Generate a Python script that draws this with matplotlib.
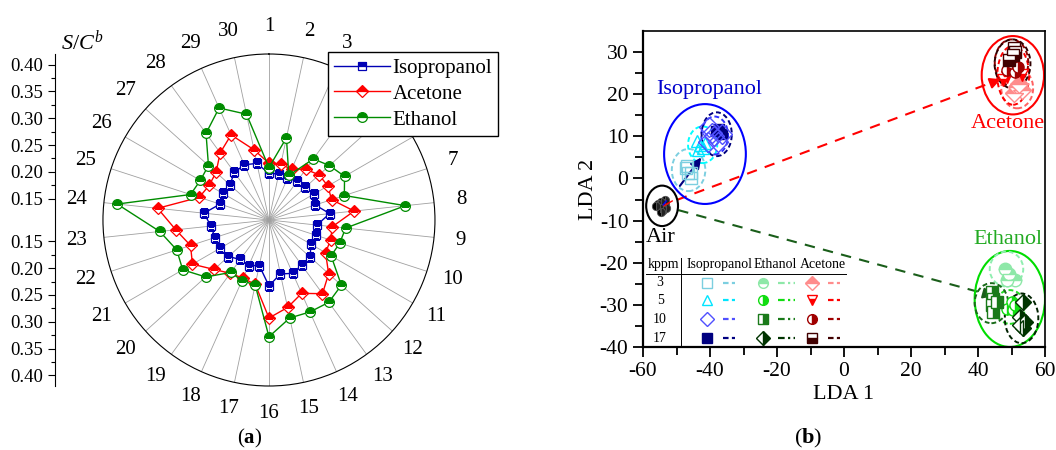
import numpy as np
import matplotlib
matplotlib.use('Agg')
import matplotlib.pyplot as plt
from matplotlib.patches import Ellipse

plt.rcParams['font.family'] = ['Liberation Serif', 'DejaVu Serif']
plt.rcParams['mathtext.fontset'] = 'custom'
plt.rcParams['mathtext.rm'] = 'Liberation Serif'
plt.rcParams['mathtext.it'] = 'Liberation Serif:italic'
plt.rcParams['mathtext.bf'] = 'Liberation Serif:bold'
plt.rcParams['axes.unicode_minus'] = False

# ---------------- (a) radar: S/C^b for sensors 1..30 ----------------
sensors = list(range(1, 31))
isopropanol = [0.197, 0.198, 0.195, 0.200, 0.201, 0.208, 0.201, 0.224, 0.200, 0.203,
               0.200, 0.214, 0.214, 0.219, 0.213, 0.233, 0.197, 0.203, 0.201, 0.212,
               0.216, 0.216, 0.219, 0.232, 0.206, 0.210, 0.208, 0.220, 0.223, 0.218]
acetone = [0.216, 0.216, 0.214, 0.227, 0.236, 0.237, 0.233, 0.270, 0.229, 0.231,
           0.232, 0.260, 0.280, 0.260, 0.277, 0.293, 0.233, 0.229, 0.233, 0.248,
           0.275, 0.264, 0.285, 0.319, 0.247, 0.239, 0.243, 0.265, 0.284, 0.244]
ethanol = [0.208, 0.267, 0.201, 0.251, 0.262, 0.273, 0.258, 0.366, 0.254, 0.249,
           0.244, 0.292, 0.300, 0.298, 0.297, 0.328, 0.234, 0.234, 0.231, 0.269,
           0.296, 0.291, 0.315, 0.395, 0.264, 0.258, 0.262, 0.310, 0.339, 0.312]
hidden_labels = [4, 5, 6]   # covered by the legend in the original
r_min, r_max = 0.11, 0.42
scale_ticks = [0.15, 0.20, 0.25, 0.30, 0.35, 0.40]

# ---------------- (b) LDA scores ----------------
air_x = [-55.5, -54.5, -53.5, -55.0, -54.0, -53.0, -56.0, -54.5, -53.5]
air_y = [-6.0, -5.5, -6.0, -7.0, -7.5, -7.0, -6.5, -8.0, -5.0]

iso3_x = [-47.2, -46.5, -45.6, -46.8, -45.8]
iso3_y = [2.4, 1.2, 1.2, 3.0, 0.2]
iso5_x = [-44.0, -43.0, -42.0, -41.5, -43.5]
iso5_y = [8.8, 8.0, 7.2, 8.5, 6.8]
iso10_x = [-40.3, -38.8, -40.7, -37.5, -36.5, -39.5]
iso10_y = [12.1, 10.0, 8.7, 8.7, 10.5, 10.8]
iso17_x = [-38.2, -37.2, -36.4]
iso17_y = [11.2, 11.8, 10.6]

eth3_x = [48.1, 49.1, 51.0, 48.6]
eth3_y = [-21.4, -22.6, -24.2, -24.2]
eth5_x = [50.0, 50.5, 48.6, 51.0]
eth5_y = [-29.3, -31.3, -30.9, -30.1]
eth10_x = [44.1, 44.6, 44.1, 44.6, 45.6]
eth10_y = [-26.9, -28.5, -30.1, -31.7, -29.3]
eth17_x = [53.5, 52.5, 54.0, 53.5, 52.5]
eth17_y = [-29.3, -32.9, -34.1, -35.6, -34.8]

ace3_x = [51.5, 53.0, 50.7, 52.2]
ace3_y = [21.6, 21.0, 20.2, 22.4]
ace5_x = [47.6, 48.8, 53.0]
ace5_y = [23.4, 24.2, 24.5]
ace10_x = [48.6, 51.0, 52.0, 50.0]
ace10_y = [25.7, 25.3, 26.5, 27.5]
ace17_x = [50.7, 51.0, 49.2, 50.5]
ace17_y = [31.0, 30.0, 28.0, 29.2]

kppm = ['3', '5', '10', '17']

# big group ellipses: (cx, cy, w, h, color)
groups = [(-41.5, 5.8, 24.4, 23.7, '#0000ff'),
          (50.4, 24.5, 18.6, 18.6, '#ff0000'),
          (49.5, -28.6, 21.0, 22.8, '#00dd00'),
          (-54.3, -6.5, 9.5, 9.6, 'black')]
# dashed concentration ellipses
sub_ellipses = [(-46.4, 2.0, 10.0, 10.0, '#7ccfe0'), (-42.2, 8.0, 8.7, 8.7, '#00ffff'),
                (-38.6, 10.2, 8.0, 9.0, '#3030ff'), (-38.0, 10.5, 9.0, 10.4, '#000080'),
                (51.7, 21.4, 9.5, 9.5, '#ff6060'), (50.5, 24.5, 9.5, 14.0, '#ff0000'),
                (50.0, 27.5, 10.0, 11.0, '#8b0000'), (50.3, 27.2, 10.7, 11.6, '#300000'),
                (48.5, -21.5, 10.0, 8.3, '#90eeb0'), (49.5, -30.5, 9.0, 8.0, '#22dd22'),
                (44.0, -29.6, 10.0, 9.5, '#1a6b1a'), (53.0, -33.2, 10.0, 11.8, '#002200')]

fig = plt.figure(figsize=(10.56, 4.5), dpi=100)

# ---------------- panel (a) ----------------
ax = fig.add_axes([0.0975, 0.1422, 0.3144, 0.7378], projection='polar')
ax.set_theta_zero_location('N')
ax.set_theta_direction(-1)
theta = np.linspace(0, 2 * np.pi, len(sensors), endpoint=False)
tc = np.append(theta, theta[0])

styles = [(isopropanol, 'Isopropanol', '#0000b4', 's', 5.5),
          (acetone, 'Acetone', '#ff0000', 'D', 6.5),
          (ethanol, 'Ethanol', '#008c00', 'o', 7)]
handles = []
for vals, name, col, mk, ms in styles:
    v = np.append(vals, vals[0])
    ln, = ax.plot(tc, v, color=col, lw=1.0, marker=mk, ms=ms, fillstyle='top',
                  markerfacecoloralt='white', markeredgecolor=col, markeredgewidth=0.9,
                  label=name, zorder=3)
    handles.append(ln)

ax.set_ylim(r_min, r_max)
ax.set_yticks([])
ax.set_xticks(theta)
ax.set_xticklabels(['' if s in hidden_labels else str(s) for s in sensors], fontsize=15)
ax.tick_params(axis='x', pad=9)
ax.xaxis.grid(True, color='#a0a0a0', lw=0.6)
ax.spines['polar'].set_color('black')
ax.spines['polar'].set_linewidth(0.8)

fig.legend(handles=handles, loc='upper left', bbox_to_anchor=(0.3106, 0.8844),
           fontsize=15, frameon=True, fancybox=False, edgecolor='black', framealpha=1,
           handlelength=2.7, handletextpad=0.1, borderpad=0.3, labelspacing=0.3,
           borderaxespad=0)

# scale axis on the left
lax = fig.add_axes([55 / 1056, 0.1422, 0.0001, 0.7378])
half = r_max - r_min
lax.set_ylim(-half, half)
pos = [t - r_min for t in scale_ticks] + [-(t - r_min) for t in scale_ticks]
lax.set_yticks(pos)
lax.set_yticklabels([f'{t:.2f}' for t in scale_ticks] * 2, fontsize=13.5)
mids = [(a + b) / 2 - r_min for a, b in zip(scale_ticks[:-1], scale_ticks[1:])]
lax.set_yticks(mids + [-m for m in mids], minor=True)
lax.tick_params(axis='y', which='major', length=5, width=0.8)
lax.tick_params(axis='y', which='minor', length=3, width=0.8)
lax.set_xticks([])
for s in ['right', 'top', 'bottom']:
    lax.spines[s].set_visible(False)
lax.spines['left'].set_linewidth(0.8)
fig.text(82 / 1056, 1 - 42 / 450, r'$S/C^{b}$', fontsize=16, ha='center', va='center')
fig.text(250 / 1056, 1 - 438 / 450, r'($\mathbf{a}$)', fontsize=15, ha='center', va='center')

# ---------------- panel (b) ----------------
bx = fig.add_axes([0.6089, 0.2289, 0.3807, 0.7022])
bx.set_xlim(-60, 60)
bx.set_ylim(-40, 35)
bx.set_xticks(range(-60, 61, 20))
bx.set_xticks(range(-50, 60, 20), minor=True)
bx.set_yticks(range(-40, 31, 10))
bx.set_yticks(range(-35, 35, 10), minor=True)
bx.tick_params(which='both', direction='out', labelsize=15.5, width=1.3)
bx.tick_params(which='major', length=7)
bx.tick_params(which='minor', length=6)
for s in ['left', 'bottom']:
    bx.spines[s].set_linewidth(1.6)
for s in ['right', 'top']:
    bx.spines[s].set_linewidth(1.2)
bx.set_xlabel('LDA 1', fontsize=16, labelpad=3)
bx.set_ylabel('LDA 2', fontsize=16, labelpad=1)

for cx, cy, w, h, col in groups:
    bx.add_patch(Ellipse((cx, cy), w, h, fill=False, edgecolor=col, lw=1.5, zorder=2))
for cx, cy, w, h, col in sub_ellipses:
    bx.add_patch(Ellipse((cx, cy), w, h, fill=False, edgecolor=col, lw=1.4,
                         ls=(0, (2.5, 1.5)), zorder=2))

# dashed trajectories from Air
bx.plot([-49.9, 47.6], [-5.1, 23.8], color='#ff0000', lw=1.5, ls=(0, (5, 4)), zorder=1)
bx.plot([-49.5, 45.6], [-7.5, -28.1], color='#1a5e1a', lw=1.5, ls=(0, (5, 4)), zorder=1)
bx.annotate('', xy=(47.6, 23.8), xytext=(44.0, 22.7),
            arrowprops=dict(arrowstyle='-|>', color='#ff0000', lw=1.5, mutation_scale=16))
bx.annotate('', xy=(45.6, -28.1), xytext=(42.0, -27.3),
            arrowprops=dict(arrowstyle='-|>', color='#1a5e1a', lw=1.5, mutation_scale=16))
bx.annotate('', xy=(-42.1, 5.5), xytext=(-49.5, -2.3),
            arrowprops=dict(arrowstyle='-|>', color='#000080', lw=1.5, mutation_scale=16))
bx.annotate('', xy=(-50.5, -5.0), xytext=(-54.5, -6.8),
            arrowprops=dict(arrowstyle='-', color='#ff0000', lw=1.0))
bx.annotate('', xy=(-52.5, -4.8), xytext=(-54.5, -6.8),
            arrowprops=dict(arrowstyle='-', color='#0000ff', lw=1.0))

bx.plot(air_x, air_y, 'o', ms=6, color='black', markeredgecolor='#555555',
        markeredgewidth=0.6, fillstyle='left', markerfacecoloralt='#222222', ls='none')

# marker definitions: (x, y, color, marker, fillstyle, size)
sets = [
    [(iso3_x, iso3_y, '#7ccfe0', 's', 'none', 8), (iso5_x, iso5_y, '#00e5ff', '^', 'none', 9),
     (iso10_x, iso10_y, '#5050ff', 'D', 'none', 10), (iso17_x, iso17_y, '#000080', 's', 'full', 7)],
    [(eth3_x, eth3_y, '#8ee8a8', 'o', 'top', 9), (eth5_x, eth5_y, '#11dd11', 'o', 'right', 8),
     (eth10_x, eth10_y, '#1a7a1a', 's', 'right', 8), (eth17_x, eth17_y, '#003300', 'D', 'right', 8)],
    [(ace3_x, ace3_y, '#ff8c8c', 'D', 'top', 9), (ace5_x, ace5_y, '#ff0000', 'v', 'bottom', 8),
     (ace10_x, ace10_y, '#a00000', 'o', 'right', 8), (ace17_x, ace17_y, '#400000', 's', 'bottom', 8)],
]
line_styles = [(0, (2.5, 1.5)), (0, (3, 1.5, 1, 1.5)), (0, (2.5, 1.5))]
for group in sets:
    for k, (xs, ys, col, mk, fs, ms) in enumerate(group):
        # the open diamonds sit on top of the 17 kppm squares in the original
        z = 3.5 if (mk == 'D' and fs == 'none') else 3
        bx.plot(xs, ys, ls='none', marker=mk, ms=ms, color=col, markeredgecolor=col,
                fillstyle=fs, markerfacecoloralt='white', markeredgewidth=1.0, zorder=z)

# group names
bx.text(-40.2, 21, 'Isopropanol', color='#0000cc', fontsize=16, ha='center', va='center')
bx.text(49.0, 13.0, 'Acetone', color='#ff0000', fontsize=16, ha='center', va='center')
bx.text(49.0, -14.5, 'Ethanol', color='#22aa22', fontsize=16, ha='center', va='center')
bx.text(-54.6, -13.9, 'Air', color='black', fontsize=16, ha='center', va='center')

# inner key table
head_y = -20.4
row_y = [-24.8, -28.9, -33.4, -37.9]
col_names = ['Isopropanol', 'Ethanol', 'Acetone']
col_x = [-37.2, -20.6, -6.2]
mark_x = [-41.0, -24.3, -9.5]
line_x = [(-36.2, -32.5), (-19.7, -14.6), (-4.9, -1.2)]
bx.text(-53.9, head_y, 'kppm', fontsize=10, ha='center', va='center')
for name, cx in zip(col_names, col_x):
    bx.text(cx, head_y, name, fontsize=10, ha='center', va='center')
bx.plot([-59.1, 0.6], [-22.6, -22.6], color='black', lw=0.7)
bx.plot([-48.7, -48.7], [-18.8, -40], color='black', lw=0.7)
for i, lab in enumerate(kppm):
    bx.text(-54.9, row_y[i], lab, fontsize=10, ha='center', va='center')
    for j, group in enumerate(sets):
        xs, ys, col, mk, fs, ms = group[i]
        bx.plot([mark_x[j]], [row_y[i]], marker=mk, ms=7, color=col, markeredgecolor=col,
                fillstyle=fs, markerfacecoloralt='white', markeredgewidth=1.0, ls='none')
        bx.plot(line_x[j], [row_y[i]] * 2, color=col, lw=1.6, ls=line_styles[j])

fig.text(808 / 1056, 1 - 438 / 450, r'($\mathbf{b}$)', fontsize=16, ha='center', va='center')

fig.savefig('out.png', dpi=100)
